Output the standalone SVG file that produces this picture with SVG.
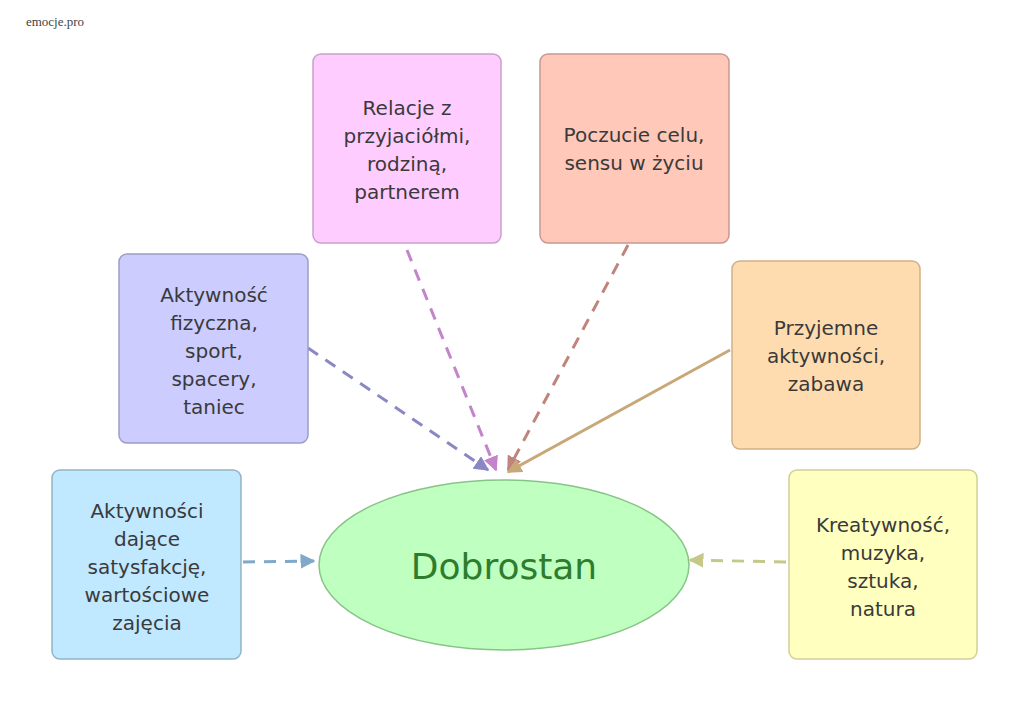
<svg xmlns="http://www.w3.org/2000/svg" width="1024" height="708" viewBox="0 0 1024 708">
<style>
.n{stroke-width:1.5}
.t{font-family:"DejaVu Sans",Verdana,sans-serif;font-size:20px;fill:#3a3a3a;text-anchor:middle}
.c{fill:none;stroke-width:3;stroke-dasharray:12,9}
</style>
<defs>
<marker id="a" viewBox="0 0 10 10" refX="9" refY="5" markerWidth="5" markerHeight="5" orient="auto" markerUnits="strokeWidth"><path d="M0,0L10,5L0,10z" fill="context-stroke"/></marker>
</defs>
<rect width="1024" height="708" fill="#fff"/>
<text x="55" y="26" font-family="Liberation Serif,serif" font-size="13" fill="#444" text-anchor="middle">emocje.pro</text>
<g id="connectors">
<path class="c" d="M407,250L496,470" stroke="#c384cc" marker-end="url(#a)"/>
<path class="c" d="M628,245L508,470" stroke="#c0847c" marker-end="url(#a)"/>
<path class="c" d="M308,348L488,470" stroke="#8a88c4" marker-end="url(#a)"/>
<path d="M730,350L508,472" fill="none" stroke-width="3" stroke="#c8a878" marker-end="url(#a)"/>
<path class="c" d="M243,562L314,561" stroke="#80a8c8" marker-end="url(#a)"/>
<path class="c" d="M786,562L690,560" stroke="#c4c888" marker-end="url(#a)"/>
</g>
<g id="relacje"><rect class="n" x="313" y="54" width="188" height="189" rx="8" fill="#ffccff" stroke="#c8a0cc"/>
<text class="t"><tspan x="407" y="115">Relacje z</tspan><tspan x="407" y="143">przyjaciółmi,</tspan><tspan x="407" y="171">rodziną,</tspan><tspan x="407" y="199">partnerem</tspan></text></g>
<g id="poczucie"><rect class="n" x="540" y="54" width="189" height="189" rx="8" fill="#ffc8b8" stroke="#c89890"/>
<text class="t"><tspan x="634" y="142">Poczucie celu,</tspan><tspan x="634" y="170">sensu w życiu</tspan></text></g>
<g id="aktywnosc"><rect class="n" x="119" y="254" width="189" height="189" rx="8" fill="#ccccff" stroke="#9c9cc8"/>
<text class="t"><tspan x="214" y="302">Aktywność</tspan><tspan x="214" y="330">fizyczna,</tspan><tspan x="214" y="358">sport,</tspan><tspan x="214" y="386">spacery,</tspan><tspan x="214" y="414">taniec</tspan></text></g>
<g id="przyjemne"><rect class="n" x="732" y="261" width="188" height="188" rx="8" fill="#ffdcb0" stroke="#d0b088"/>
<text class="t"><tspan x="826" y="335">Przyjemne</tspan><tspan x="826" y="363">aktywności,</tspan><tspan x="826" y="391">zabawa</tspan></text></g>
<g id="satysfakcja"><rect class="n" x="52" y="470" width="189" height="189" rx="8" fill="#c0e8ff" stroke="#90b4c8"/>
<text class="t"><tspan x="147" y="518">Aktywności</tspan><tspan x="147" y="546">dające</tspan><tspan x="147" y="574">satysfakcję,</tspan><tspan x="147" y="602">wartościowe</tspan><tspan x="147" y="630">zajęcia</tspan></text></g>
<g id="kreatywnosc"><rect class="n" x="789" y="470" width="188" height="189" rx="8" fill="#ffffc0" stroke="#d0d098"/>
<text class="t"><tspan x="883" y="532">Kreatywność,</tspan><tspan x="883" y="560">muzyka,</tspan><tspan x="883" y="588">sztuka,</tspan><tspan x="883" y="616">natura</tspan></text></g>
<g id="dobrostan"><ellipse cx="504" cy="565" rx="185" ry="85" fill="#bfffbf" stroke="#88c488" stroke-width="1.5"/>
<text x="504" y="579" font-family="DejaVu Sans,Verdana,sans-serif" font-size="36" fill="#2e7d2e" text-anchor="middle">Dobrostan</text></g>
</svg>
